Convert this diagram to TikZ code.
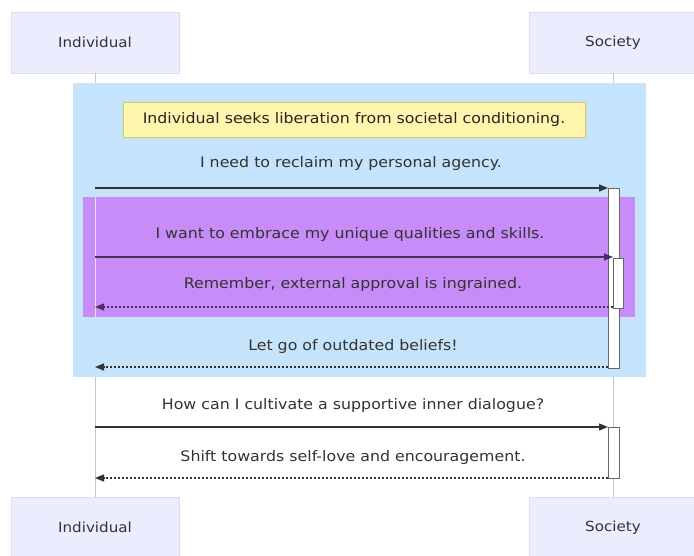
\documentclass[tikz,border=0pt]{standalone}
\usepackage{fontspec}
\setmainfont{DejaVu Sans}[FakeStretch=1.09]
\usetikzlibrary{arrows.meta}
\definecolor{txt}{HTML}{333333}
\definecolor{actorfill}{HTML}{ECECFF}
\definecolor{actorline}{HTML}{DCDCF4}
\definecolor{loopblue}{HTML}{C5E3FA}
\definecolor{critpurple}{HTML}{C78CF7}
\definecolor{notefill}{HTML}{FFF5AD}
\definecolor{noteline}{HTML}{CFC47A}
\definecolor{lifegray}{HTML}{C8C8C8}
\definecolor{arrowdark}{HTML}{333333}
\definecolor{arrowpurple}{HTML}{45305F}
\tikzset{
  actor/.style={draw=actorline, fill=actorfill, minimum width=168pt, minimum height=61pt, inner sep=0pt, text=txt, font=\fontsize{13.9}{16}\selectfont},
  msg/.style={text=txt, font=\fontsize{14.5}{17}\selectfont, inner sep=0pt},
  lifeline/.style={draw=lifegray, line width=0.8pt},
  solidmsg/.style={draw=arrowdark, line width=1.3pt, -{Triangle[length=9pt,width=7pt]}},
  dottedmsg/.style={draw=arrowdark, line width=1.3pt, dash pattern=on 2pt off 2pt, -{Triangle[length=9pt,width=7pt]}},
  activation/.style={draw=gray!80!black, fill=white, line width=0.8pt},
}
\begin{document}
\begin{tikzpicture}[x=1pt,y=-1pt]
\useasboundingbox (0,0) rectangle (694,556);
\fill[white] (0,0) rectangle (694,556);
% participants
\node[actor] (itop) at (95,42.5) {Individual};
\node[actor] (stop) at (613,42.5) {Society};
\node[actor] (ibot) at (95,527.5) {Individual};
\node[actor] (sbot) at (613,527.5) {Society};
% lifelines
\draw[lifeline] (itop.south) -- (ibot.north);
\draw[lifeline] (stop.south) -- (sbot.north);
% loop / rect regions
\fill[loopblue] (73,83) rectangle (646,377);
\fill[critpurple] (83,197) rectangle (635,317);
\draw[draw=white!70!critpurple, line width=0.8pt] (95,197) -- (95,317);
% note
\node[draw=noteline, fill=notefill, minimum width=462pt, minimum height=35pt, inner sep=0pt, text=black!85, font=\fontsize{14.5}{17}\selectfont] (note) at (354,119.5) {Individual seeks liberation from societal conditioning.};
% activations
\draw[activation] (608,188) rectangle (619,368);
\draw[activation] (613,258) rectangle (623,308);
\draw[activation] (608,427) rectangle (619,478);
% coordinates on lifelines
\coordinate (i1) at (95,188); \coordinate (s1) at (608,188);
\coordinate (i2) at (95,257); \coordinate (s2) at (613,257);
\coordinate (i3) at (95,307); \coordinate (s3) at (613,307);
\coordinate (i4) at (95,367); \coordinate (s4) at (608,367);
\coordinate (i5) at (95,427); \coordinate (s5) at (608,427);
\coordinate (i6) at (95,478); \coordinate (s6) at (608,478);
% messages
\node[msg] (m1) at (351,164) {I need to reclaim my personal agency.};
\draw[solidmsg] (i1) -- (s1);
\node[msg] (m2) at (350,235) {I want to embrace my unique qualities and skills.};
\draw[solidmsg, draw=arrowpurple] (i2) -- (s2);
\node[msg] (m3) at (353,285) {Remember, external approval is ingrained.};
\draw[dottedmsg, draw=arrowpurple] (s3) -- (i3);
\node[msg] (m4) at (353,346) {Let go of outdated beliefs!};
\draw[dottedmsg] (s4) -- (i4);
\node[msg] (m5) at (353,405) {How can I cultivate a supportive inner dialogue?};
\draw[solidmsg] (i5) -- (s5);
\node[msg] (m6) at (353,457) {Shift towards self-love and encouragement.};
\draw[dottedmsg] (s6) -- (i6);
\end{tikzpicture}
\end{document}
